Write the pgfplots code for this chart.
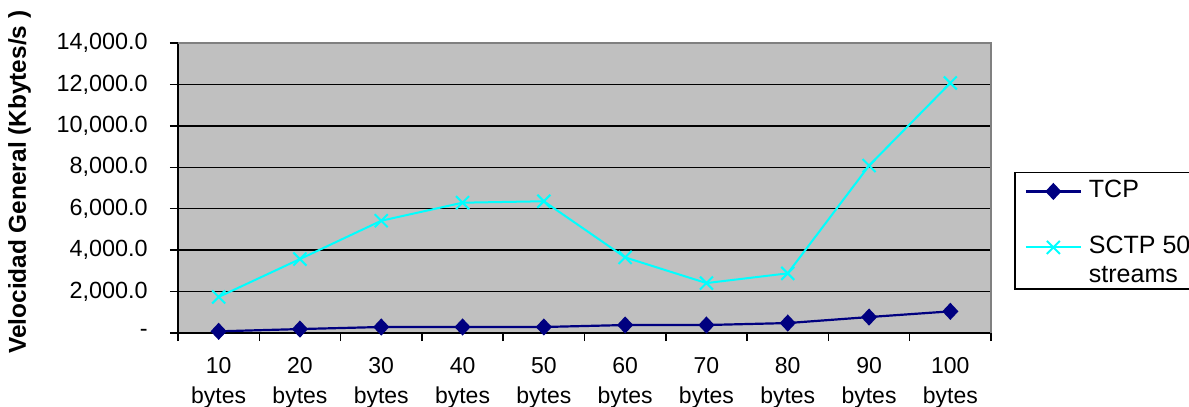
\documentclass[border=0pt]{standalone}
\usepackage{pgfplots}
\pgfplotsset{compat=1.18}
\usepackage{fontspec}
\setmainfont{Liberation Sans}

\definecolor{plotgray}{HTML}{C0C0C0}
\definecolor{framegray}{HTML}{808080}
\definecolor{tcpblue}{HTML}{000080}
\definecolor{sctpcyan}{HTML}{00FFFF}

\begin{document}
\begin{tikzpicture}
\begin{axis}[
  at={(0,0)}, anchor=south west,
  scale only axis, width=406.5bp, height=145bp,
  xmin=0.5, xmax=10.5, ymin=0, ymax=14000,
  clip=false,
  axis background/.style={fill=plotgray},
  axis x line*=bottom, axis y line*=left,
  axis line style={black, line width=0.75bp},
  tick align=outside, major tick length=4bp,
  tick style={black, line width=0.75bp},
  ymajorgrids, major grid style={black, line width=0.75bp},
  scaled y ticks=false,
  ytick={0,2000,4000,6000,8000,10000,12000,14000},
  yticklabels={-, {2,000.0}, {4,000.0}, {6,000.0}, {8,000.0}, {10,000.0}, {12,000.0}, {14,000.0}},
  xtick={0.5,1.5,2.5,3.5,4.5,5.5,6.5,7.5,8.5,9.5,10.5}, xticklabels={},
  extra x ticks={1,2,3,4,5,6,7,8,9,10},
  extra x tick labels={{10\\bytes},{20\\bytes},{30\\bytes},{40\\bytes},{50\\bytes},{60\\bytes},{70\\bytes},{80\\bytes},{90\\bytes},{100\\bytes}},
  extra x tick style={major tick length=0pt},
  tick label style={font=\fontsize{11.7bp}{14.5bp}\selectfont},
  xticklabel style={align=center, inner sep=0pt, yshift=-12bp, font=\fontsize{11.5bp}{15bp}\selectfont},
  yticklabel style={inner sep=0pt, xshift=-11bp},
  ylabel={Velocidad General (Kbytes/s )},
  ylabel style={font=\fontsize{12.2bp}{14bp}\selectfont\bfseries, at={(axis description cs:-0.195,0.52)}, anchor=center},
  legend style={at={(1.0283,0.5552)}, anchor=north west, draw=black, line width=0.75bp, fill=white,
    inner xsep=5bp, inner ysep=0pt, row sep=0pt, column sep=3.5bp,
    nodes={inner sep=0pt, text depth=, text height=, font=\fontsize{12.5bp}{14bp}\selectfont},
    cells={anchor=base west}},
  legend image code/.code={\draw[mark repeat=2, mark phase=2, #1] plot coordinates {(0bp,0bp) (13.75bp,0bp) (27.5bp,0bp)};},
  legend image post style={yshift=3bp},
]
\addplot[color=tcpblue, line width=1.1bp, mark=diamond*, mark size=3.5bp, mark options={xscale=1.25, fill=tcpblue}]
  coordinates {(1,80) (2,190) (3,290) (4,290) (5,290) (6,385) (7,385) (8,480) (9,770) (10,1045)};
\addlegendentry{\rule[-18.5bp]{0pt}{30.85bp}TCP}
\addplot[color=sctpcyan, line width=1bp, mark=x, mark size=4.6bp]
  coordinates {(1,1740) (2,3570) (3,5420) (4,6290) (5,6360) (6,3650) (7,2410) (8,2880) (9,8080) (10,12070)};
\addlegendentry{\rule[-4.9bp]{0pt}{14.4bp}SCTP 50}
\addlegendimage{empty legend}
\addlegendentry{\rule[-3.3bp]{0pt}{12.8bp}streams}
\draw[framegray, line width=0.75bp] (rel axis cs:0,1) -- (rel axis cs:1,1) -- (rel axis cs:1,0);
\end{axis}
\pgfresetboundingbox
\path[use as bounding box] (-89bp,-37bp) rectangle (505.5bp,166.5bp);
\end{tikzpicture}
\end{document}
